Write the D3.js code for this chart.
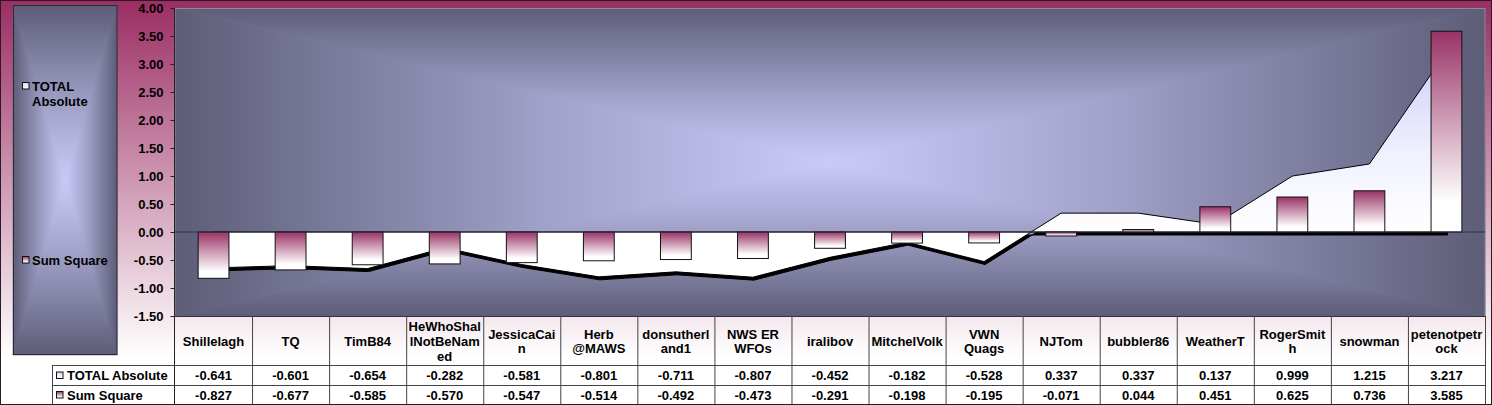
<!DOCTYPE html>
<html>
<head>
<meta charset="utf-8">
<script src="https://cdn.jsdelivr.net/npm/d3@7/dist/d3.min.js"></script>
<style>
  html, body { margin: 0; padding: 0; background: #fff; }
  svg { display: block; }
  text { font-family: "Liberation Sans", Arial, sans-serif; font-weight: bold; font-size: 13px; fill: #000; }
</style>
</head>
<body>
<svg id="chart" width="1492" height="405"></svg>
<script>
// ---------------- DATA ----------------
const categories = ["Shillelagh", "TQ", "TimB84", "HeWhoShallNotBeNamed", "JessicaCain", "Herb @MAWS",
  "donsutherland1", "NWS ER WFOs", "iralibov", "MitchelVolk", "VWN Quags", "NJTom", "bubbler86",
  "WeatherT", "RogerSmith", "snowman", "petenotpetrock"];
const categoryLabelLines = [["Shillelagh"], ["TQ"], ["TimB84"], ["HeWhoShal", "lNotBeNam", "ed"],
  ["JessicaCai", "n"], ["Herb", "@MAWS"], ["donsutherl", "and1"], ["NWS ER", "WFOs"], ["iralibov"],
  ["MitchelVolk"], ["VWN", "Quags"], ["NJTom"], ["bubbler86"], ["WeatherT"], ["RogerSmit", "h"],
  ["snowman"], ["petenotpetr", "ock"]];
const seriesNames = ["TOTAL Absolute", "Sum Square"];
const totalAbsolute = [-0.641, -0.601, -0.654, -0.282, -0.581, -0.801, -0.711, -0.807, -0.452, -0.182,
  -0.528, 0.337, 0.337, 0.137, 0.999, 1.215, 3.217];
const sumSquare = [-0.827, -0.677, -0.585, -0.570, -0.547, -0.514, -0.492, -0.473, -0.291, -0.198,
  -0.195, -0.071, 0.044, 0.451, 0.625, 0.736, 3.585];
const yTicks = [4.00, 3.50, 3.00, 2.50, 2.00, 1.50, 1.00, 0.50, 0.00, -0.50, -1.00, -1.50];

// ---------------- LAYOUT ----------------
const W = 1492, H = 405;
const plot = { left: 175, right: 1485, top: 8, bottom: 316 };
const table = { left: 52, headerBottom: 365.5, row1Bottom: 385.5, bottom: 404 };

const svg = d3.select("#chart");
const defs = svg.append("defs");

const hyphen = s => s.replace("\u2212", "-");
const fmt2 = v => hyphen(d3.format(".2f")(v));
const fmt3 = v => hyphen(d3.format(".3f")(v));

// chart background gradient
const bgGrad = defs.append("linearGradient").attr("id", "bgGrad")
  .attr("x1", 0).attr("y1", 0).attr("x2", 0).attr("y2", 1);
bgGrad.append("stop").attr("offset", 0).attr("stop-color", "#9b2d63");
bgGrad.append("stop").attr("offset", 0.88).attr("stop-color", "#ffffff");
bgGrad.append("stop").attr("offset", 1).attr("stop-color", "#ffffff");
svg.append("rect").attr("x", 0).attr("y", 0).attr("width", W).attr("height", H)
  .attr("fill", "url(#bgGrad)");

// rectangular "from center" gradient helper
function rectGradient(g, id, x0, y0, x1, y1, edge, center) {
  const cx = (x0 + x1) / 2, cy = (y0 + y1) / 2;
  const parts = [
    { pts: [[x0, y0], [x1, y0], [cx, cy]], g: [cx, y0, cx, cy] },
    { pts: [[x0, y1], [x1, y1], [cx, cy]], g: [cx, y1, cx, cy] },
    { pts: [[x0, y0], [x0, y1], [cx, cy]], g: [x0, cy, cx, cy] },
    { pts: [[x1, y0], [x1, y1], [cx, cy]], g: [x1, cy, cx, cy] }
  ];
  g.append("rect").attr("x", x0).attr("y", y0).attr("width", x1 - x0).attr("height", y1 - y0)
    .attr("fill", d3.interpolateRgb(edge, center)(0.5));
  parts.forEach((p, i) => {
    const gid = id + "_" + i;
    const lg = defs.append("linearGradient").attr("id", gid).attr("gradientUnits", "userSpaceOnUse")
      .attr("x1", p.g[0]).attr("y1", p.g[1]).attr("x2", p.g[2]).attr("y2", p.g[3]);
    lg.append("stop").attr("offset", 0).attr("stop-color", edge);
    lg.append("stop").attr("offset", 0.55).attr("stop-color", d3.interpolateRgb(edge, center)(0.6));
    lg.append("stop").attr("offset", 1).attr("stop-color", center);
    g.append("polygon").attr("points", p.pts.map(q => q.join(",")).join(" "))
      .attr("fill", `url(#${gid})`).attr("stroke", `url(#${gid})`).attr("stroke-width", 0.6);
  });
}

// ---------------- LEGEND BOX ----------------
const legend = svg.append("g");
rectGradient(legend, "legGrad", 13, 5, 117, 355, "#5d5d78", "#cacaf8");
legend.append("rect").attr("x", 13.5).attr("y", 5.5).attr("width", 103.5).attr("height", 349)
  .attr("fill", "none").attr("stroke", "#2a2a3a").attr("stroke-width", 1);

// series key fills
const areaKey = defs.append("linearGradient").attr("id", "areaKey").attr("x1", 0).attr("y1", 0).attr("x2", 0).attr("y2", 1);
areaKey.append("stop").attr("offset", 0).attr("stop-color", "#d6d6fb");
areaKey.append("stop").attr("offset", 1).attr("stop-color", "#ffffff");
const barGrad = defs.append("linearGradient").attr("id", "barGrad").attr("x1", 0).attr("y1", 0).attr("x2", 0).attr("y2", 1);
barGrad.append("stop").attr("offset", 0).attr("stop-color", "#993366");
barGrad.append("stop").attr("offset", 0.85).attr("stop-color", "#ffffff");
barGrad.append("stop").attr("offset", 1).attr("stop-color", "#ffffff");
const keyFills = ["url(#areaKey)", "url(#barGrad)"];

const legendItems = [
  { lines: ["TOTAL", "Absolute"], y: 86 },
  { lines: ["Sum Square"], y: 260 }
];
legendItems.forEach((it, i) => {
  legend.append("rect").attr("x", 22.5).attr("y", it.y - 3.5).attr("width", 6.5).attr("height", 6.5)
    .attr("fill", keyFills[i]).attr("stroke", "#111").attr("stroke-width", 1);
  const t = legend.append("text").attr("x", 32).attr("y", it.y + 4.5);
  it.lines.forEach((ln, j) => t.append("tspan").attr("x", 32).attr("dy", j === 0 ? 0 : 15).text(ln));
});

// ---------------- PLOT AREA ----------------
const plotG = svg.append("g");
rectGradient(plotG, "plotGrad", plot.left, plot.top, plot.right, plot.bottom, "#5d5d78", "#cbcbfb");
plotG.append("rect").attr("x", plot.left).attr("y", plot.top + 0.5).attr("width", plot.right - plot.left)
  .attr("height", plot.bottom - plot.top).attr("fill", "none").attr("stroke", "#8a8a98").attr("stroke-width", 1);

const x = d3.scaleBand().domain(categories).range([plot.left, plot.right]).paddingInner(0).paddingOuter(0);
const y = d3.scaleLinear().domain([-1.5, 4]).range([plot.bottom, plot.top]);
const cx = d => x(d) + x.bandwidth() / 2;

// area series (TOTAL Absolute)
const areaData = categories.map((c, i) => ({ c, v: totalAbsolute[i] }));
const areaGen = d3.area().x(d => cx(d.c)).y0(y(0)).y1(d => y(d.v));
const areaFill = defs.append("linearGradient").attr("id", "areaFill").attr("gradientUnits", "userSpaceOnUse")
  .attr("x1", 0).attr("y1", y(d3.max(totalAbsolute))).attr("x2", 0).attr("y2", y(0));
areaFill.append("stop").attr("offset", 0).attr("stop-color", "#cfcffb");
areaFill.append("stop").attr("offset", 0.6).attr("stop-color", "#f2f2ff");
areaFill.append("stop").attr("offset", 1).attr("stop-color", "#ffffff");

plotG.append("path").datum(areaData).attr("d", areaGen)
  .attr("fill", "#000").attr("stroke", "#000").attr("stroke-width", 1)
  .attr("transform", "translate(1,3)");
plotG.append("path").datum(areaData).attr("d", areaGen)
  .attr("fill", "url(#areaFill)").attr("stroke", "#000").attr("stroke-width", 1)
  .attr("stroke-linejoin", "miter");

// column series (Sum Square)
const barW = x.bandwidth() / 2.5;
plotG.selectAll("rect.bar").data(categories.map((c, i) => ({ c, v: sumSquare[i] }))).enter()
  .append("rect").attr("class", "bar")
  .attr("x", d => cx(d.c) - barW / 2)
  .attr("y", d => Math.min(y(d.v), y(0)))
  .attr("width", barW)
  .attr("height", d => Math.abs(y(d.v) - y(0)))
  .attr("fill", "url(#barGrad)").attr("stroke", "#111").attr("stroke-width", 1);

// zero line
plotG.append("line").attr("x1", plot.left).attr("x2", plot.right).attr("y1", y(0)).attr("y2", y(0))
  .attr("stroke", "#303040").attr("stroke-width", 1);

// y axis
const yAxis = d3.axisLeft(y).tickValues(yTicks).tickSize(4).tickPadding(7).tickFormat(fmt2);
const yg = svg.append("g").attr("transform", `translate(${plot.left - 0.5},0)`).call(yAxis);
yg.select(".domain").remove();
yg.selectAll(".tick line").attr("stroke", "#222");
yg.selectAll(".tick text").attr("font-size", 13).attr("font-family", "Liberation Sans, Arial, sans-serif")
  .attr("font-weight", "bold").attr("fill", "#000");
svg.append("line").attr("x1", plot.left - 0.5).attr("x2", plot.left - 0.5).attr("y1", plot.top).attr("y2", table.bottom)
  .attr("stroke", "#222").attr("stroke-width", 1);

// ---------------- DATA TABLE ----------------
const tg = svg.append("g");
const lineColor = "#444";
// plot bottom / header top
tg.append("line").attr("x1", plot.left).attr("x2", plot.right).attr("y1", plot.bottom + 0.5).attr("y2", plot.bottom + 0.5)
  .attr("stroke", "#333");
// vertical column separators
categories.forEach((c, i) => {
  if (i === 0) return;
  tg.append("line").attr("x1", x(c) + 0.5).attr("x2", x(c) + 0.5).attr("y1", plot.bottom).attr("y2", table.bottom)
    .attr("stroke", lineColor);
});
tg.append("line").attr("x1", plot.right + 0.5).attr("x2", plot.right + 0.5).attr("y1", plot.bottom).attr("y2", table.bottom)
  .attr("stroke", lineColor);
// horizontal rows
[table.headerBottom, table.row1Bottom].forEach(yy => {
  tg.append("line").attr("x1", table.left).attr("x2", plot.right).attr("y1", yy).attr("y2", yy).attr("stroke", lineColor);
});
tg.append("line").attr("x1", table.left).attr("x2", plot.right + 1).attr("y1", table.bottom + 0.5).attr("y2", table.bottom + 0.5)
  .attr("stroke", "#111");
tg.append("line").attr("x1", table.left + 0.5).attr("x2", table.left + 0.5).attr("y1", table.headerBottom).attr("y2", table.bottom)
  .attr("stroke", lineColor);

// header labels
categories.forEach((c, i) => {
  const lines = categoryLabelLines[i];
  const lh = 14.7;
  const startY = 341 - (lines.length - 1) * lh / 2;
  const t = tg.append("text").attr("text-anchor", "middle").attr("x", cx(c)).attr("y", startY)
    .attr("dominant-baseline", "central");
  lines.forEach((ln, j) => t.append("tspan").attr("x", cx(c)).attr("y", startY + j * lh).text(ln));
});

// rows
const rows = [totalAbsolute, sumSquare];
const rowCenters = [375.5, 395];
rows.forEach((vals, r) => {
  const yc = rowCenters[r];
  tg.append("rect").attr("x", 56.5).attr("y", yc - 3.5).attr("width", 6.5).attr("height", 6.5)
    .attr("fill", keyFills[r]).attr("stroke", "#111").attr("stroke-width", 1);
  tg.append("text").attr("x", 67).attr("y", yc).attr("dominant-baseline", "central").text(seriesNames[r]);
  vals.forEach((v, i) => {
    tg.append("text").attr("text-anchor", "middle").attr("x", cx(categories[i])).attr("y", yc)
      .attr("dominant-baseline", "central").text(fmt3(v));
  });
});

// outer border
svg.append("rect").attr("x", 0.5).attr("y", 0.5).attr("width", W - 1).attr("height", H - 1)
  .attr("fill", "none").attr("stroke", "#2a1a24").attr("stroke-width", 1);
</script>
</body>
</html>
